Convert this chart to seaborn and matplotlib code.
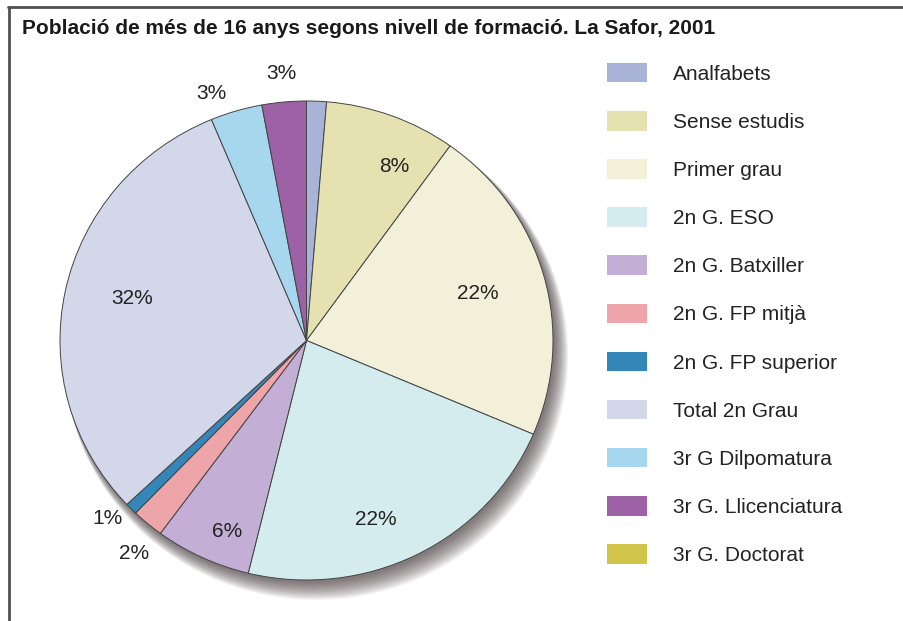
import matplotlib
matplotlib.use("Agg")
import matplotlib.pyplot as plt
from matplotlib.patches import Ellipse
from matplotlib.lines import Line2D
import seaborn as sns
import numpy as np

categories = ["Analfabets", "Sense estudis", "Primer grau", "2n G. ESO",
              "2n G. Batxiller", "2n G. FP mitjà", "2n G. FP superior",
              "Total 2n Grau", "3r G Dilpomatura", "3r G. Llicenciatura",
              "3r G. Doctorat"]
shares = [1.3, 8.6, 21.5, 22.4, 6.3, 2.1, 0.8, 30.7, 3.4, 2.9, 0.0]
pct_labels = ["", "8%", "22%", "22%", "6%", "2%", "1%", "32%", "3%", "3%", ""]
colors = ["#a9b3d8", "#e5e1b0", "#f2f0d8", "#d5ecef", "#c3aed5", "#eea5aa",
          "#3586b8", "#d3d7ea", "#a7d6ef", "#9d62a6", "#d0c54a"]
# label placement tweaks (radius fraction, angle nudge in degrees)
label_dist = [0.8, 0.81, 0.72, 0.8, 0.86, 1.13, 1.1, 0.73, 1.1, 1.12, 0.8]
label_nudge = [0, -6, 0, -6, 3, 2, -2, -2, 4, 0, 0]

sns.set_theme(style="white")
plt.rcParams["font.family"] = ["Liberation Sans", "DejaVu Sans"]

W, H = 904, 621
fig = plt.figure(figsize=(W / 100, H / 100), dpi=100)
ax = fig.add_axes([0, 0, 1, 1])

# pie center / radii in pixels
cx, cy, rx, ry = 306.5, 340.5, 246.5, 239.5

# soft drop shadow, fading out down and to the right
for k in range(16):
    grow = 0.0015 * k
    ax.add_patch(Ellipse((0.006 + 0.0022 * k, -0.01 - 0.0034 * k),
                         2 + 2 * grow, 2 + 2 * grow,
                         facecolor="#3e3234", edgecolor="none",
                         alpha=0.06, zorder=0))

pal = sns.color_palette(colors)
wedges, _ = ax.pie(shares, colors=pal, startangle=90, counterclock=False,
                   radius=1, center=(0, 0), frame=True,
                   wedgeprops=dict(edgecolor="#444444", linewidth=0.7))
ax.set_xlim(-cx / rx, (W - cx) / rx)
ax.set_ylim((cy - H) / ry, cy / ry)
ax.set_aspect("auto")
ax.set_axis_off()

for w, lab, d, nd in zip(wedges, pct_labels, label_dist, label_nudge):
    if not lab:
        continue
    mid = np.deg2rad((w.theta1 + w.theta2) / 2 + nd)
    ax.text(d * np.cos(mid), d * np.sin(mid), lab, ha="center", va="center",
            fontsize=15, color="#222222")

leg = ax.legend(wedges, categories, loc="upper left",
                bbox_to_anchor=(607 / W, 1 - 63 / H), bbox_transform=fig.transFigure,
                frameon=False, fontsize=15, borderpad=0, borderaxespad=0,
                handlelength=1.92, handleheight=1.06, handletextpad=1.25,
                labelspacing=1.31)
for t in leg.get_texts():
    t.set_color("#222222")
for h in leg.legend_handles:
    h.set_edgecolor("none")

fig.text(22 / W, 1 - 28 / H,
         "Població de més de 16 anys segons nivell de formació. La Safor, 2001",
         ha="left", va="center", fontsize=15, fontweight="bold", color="#1a1a1a")

fig.add_artist(Line2D([8 / W, 1], [1 - 7 / H, 1 - 7 / H], transform=fig.transFigure,
                      color="#505050", lw=2))
fig.add_artist(Line2D([9 / W, 9 / W], [0, 1 - 7 / H], transform=fig.transFigure,
                      color="#505050", lw=2))

fig.savefig("out.png", dpi=100)
